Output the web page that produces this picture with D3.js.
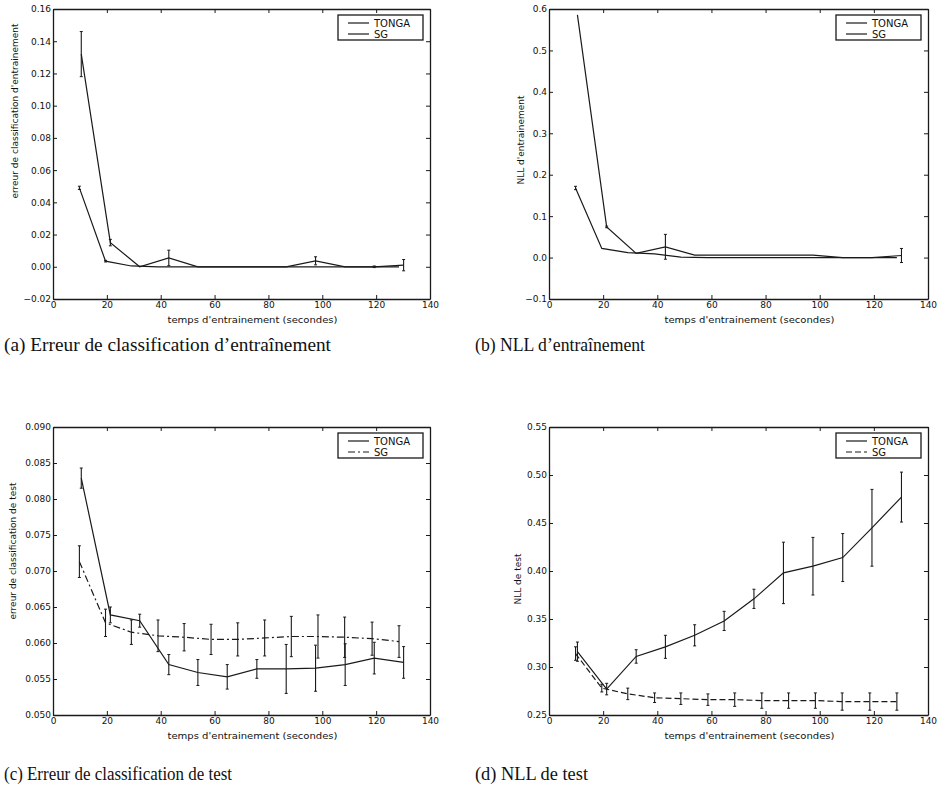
<!DOCTYPE html>
<html>
<head>
<meta charset="utf-8">
<script src="https://cdn.jsdelivr.net/npm/d3@7"></script>
<style>
  body { margin: 0; background: #fff; }
  svg text { font-family: "DejaVu Sans", sans-serif; fill: #111; }
  .caption { font-family: "Liberation Serif", serif; font-size: 18px; }
</style>
</head>
<body>
<svg id="fig" width="937" height="796"></svg>
<script>
// run times (seconds) for each method
const tongaTime = [10.5, 21.3, 32.2, 43.0, 53.8, 64.7, 75.7, 86.6, 97.5, 108.5, 119.3, 130.2];
const sgTime = [9.8, 19.5, 29.1, 39.0, 48.7, 58.7, 68.6, 78.6, 88.5, 98.4, 108.3, 118.5, 128.5];

// (a) training classification error
const tongaTrainErr = [0.132, 0.015, 0.000, 0.0055, 0.000, 0.000, 0.000, 0.000, 0.0037, 0.000, 0.000, 0.001];
const tongaTrainErrSd = [0.014, 0.002, 0, 0.0048, 0, 0, 0, 0, 0.0025, 0, 0.0005, 0.0035];
const sgTrainErr = [0.049, 0.0035, 0.0005, 0, 0, 0, 0, 0, 0, 0, 0, 0, 0];
const sgTrainErrSd = [0.001, 0.0005, 0, 0, 0, 0, 0, 0, 0, 0, 0, 0, 0];

// (b) training NLL
const tongaTrainNll = [0.586, 0.074, 0.010, 0.026, 0.006, 0.006, 0.006, 0.006, 0.006, 0.000, 0.000, 0.005];
const tongaTrainNllSd = [0, 0.002, 0, 0.030, 0, 0, 0, 0, 0, 0, 0, 0.017];
const sgTrainNll = [0.168, 0.022, 0.012, 0.009, 0.001, 0.000, 0.000, 0.000, 0.000, 0.000, 0.000, 0.000, 0.000];
const sgTrainNllSd = [0.004, 0, 0, 0, 0, 0, 0, 0, 0, 0, 0, 0, 0];

// (c) test classification error
const tongaTestErr = [0.0829, 0.0639, 0.0631, 0.0570, 0.0559, 0.0553, 0.0564, 0.0564, 0.0565, 0.0570, 0.0579, 0.0573];
const tongaTestErrSd = [0.0014, 0.0011, 0.0009, 0.0014, 0.0018, 0.0017, 0.0013, 0.0034, 0.0032, 0.0029, 0.0022, 0.0022];
const sgTestErr = [0.0713, 0.0628, 0.0615, 0.0610, 0.0608, 0.0605, 0.0605, 0.0607, 0.0609, 0.0609, 0.0608, 0.0606, 0.0602];
const sgTestErrSd = [0.0022, 0.0019, 0.0017, 0.0022, 0.0019, 0.0021, 0.0023, 0.0025, 0.0028, 0.0030, 0.0028, 0.0023, 0.0022];

// (d) test NLL
const tongaTestNll = [0.316, 0.277, 0.311, 0.321, 0.333, 0.348, 0.371, 0.398, 0.405, 0.414, 0.445, 0.477];
const tongaTestNllSd = [0.010, 0.006, 0.007, 0.012, 0.011, 0.010, 0.010, 0.032, 0.030, 0.025, 0.040, 0.026];
const sgTestNll = [0.314, 0.278, 0.272, 0.268, 0.267, 0.266, 0.266, 0.265, 0.265, 0.265, 0.264, 0.264, 0.264];
const sgTestNllSd = [0.007, 0.004, 0.006, 0.005, 0.006, 0.006, 0.007, 0.008, 0.008, 0.008, 0.009, 0.009, 0.009];

const xTicks = [0, 20, 40, 60, 80, 100, 120, 140];
const seriesNames = ["TONGA", "SG"];
const xLabel = "temps d'entrainement (secondes)";

const panels = [
  { left: 53, right: 430, top: 9, bottom: 299, yDomain: [-0.02, 0.16], yTicks: d3.range(-0.02, 0.1601, 0.02), fmt: ".2f",
    yLabel: "erreur de classification d'entrainement", yLabelX: 15, yLabelY: 111,
    tonga: tongaTrainErr, tongaSd: tongaTrainErrSd, sg: sgTrainErr, sgSd: sgTrainErrSd, sgDash: null,
    caption: "(a) Erreur de classification d\u2019entra\u00eenement", capX: 4, capY: 351, capW: 327 },
  { left: 549, right: 928, top: 9, bottom: 299, yDomain: [-0.1, 0.6], yTicks: d3.range(-0.1, 0.601, 0.1), fmt: ".1f",
    yLabel: "NLL d'entrainement", yLabelX: 521, yLabelY: 140,
    tonga: tongaTrainNll, tongaSd: tongaTrainNllSd, sg: sgTrainNll, sgSd: sgTrainNllSd, sgDash: null,
    caption: "(b) NLL d\u2019entra\u00eenement", capX: 475, capY: 351, capW: 170 },
  { left: 53, right: 430, top: 427, bottom: 715, yDomain: [0.05, 0.09], yTicks: d3.range(0.05, 0.0901, 0.005), fmt: ".3f",
    yLabel: "erreur de classification de test", yLabelX: 13, yLabelY: 551,
    tonga: tongaTestErr, tongaSd: tongaTestErrSd, sg: sgTestErr, sgSd: sgTestErrSd, sgDash: "7,3,2,3",
    caption: "(c) Erreur de classification de test", capX: 4, capY: 780, capW: 228 },
  { left: 549, right: 928, top: 427, bottom: 715, yDomain: [0.25, 0.55], yTicks: d3.range(0.25, 0.5501, 0.05), fmt: ".2f",
    yLabel: "NLL de test", yLabelX: 518, yLabelY: 579,
    tonga: tongaTestNll, tongaSd: tongaTestNllSd, sg: sgTestNll, sgSd: sgTestNllSd, sgDash: "6,3",
    caption: "(d) NLL de test", capX: 475, capY: 780, capW: 113 }
];

const svg = d3.select("#fig");
const ink = "#1a1a1a";

panels.forEach(p => {
  const g = svg.append("g");
  const x = d3.scaleLinear().domain([0, 140]).range([p.left, p.right]);
  const y = d3.scaleLinear().domain(p.yDomain).range([p.bottom, p.top]);

  // axes, ticks pointing inward like matplotlib
  const fmt = d3.format(p.fmt);
  g.append("g").attr("transform", `translate(0,${p.bottom})`)
    .call(d3.axisBottom(x).tickValues(xTicks).tickSize(-4).tickSizeOuter(0).tickPadding(3).tickFormat(d3.format("d")));
  g.append("g").attr("transform", `translate(0,${p.top})`)
    .call(d3.axisTop(x).tickValues(xTicks).tickSize(-4).tickSizeOuter(0).tickFormat(""));
  g.append("g").attr("transform", `translate(${p.left},0)`)
    .call(d3.axisLeft(y).tickValues(p.yTicks).tickSize(-4).tickSizeOuter(0).tickPadding(2).tickFormat(fmt));
  g.append("g").attr("transform", `translate(${p.right},0)`)
    .call(d3.axisRight(y).tickValues(p.yTicks).tickSize(-4).tickSizeOuter(0).tickFormat(""));

  g.selectAll(".domain").attr("stroke", ink).attr("stroke-width", 1.3);
  g.selectAll(".tick line").attr("stroke", ink).attr("stroke-width", 1);
  g.selectAll(".tick text").attr("font-size", 9).attr("font-family", "DejaVu Sans").attr("fill", "#111");

  // axis labels
  g.append("text")
    .attr("x", (p.left + p.right) / 2 + 11).attr("y", p.bottom + 24)
    .attr("text-anchor", "middle").attr("font-size", 9.5)
    .attr("textLength", 170).attr("lengthAdjust", "spacingAndGlyphs")
    .text(xLabel);
  g.append("text")
    .attr("transform", `translate(${p.yLabelX},${p.yLabelY}) rotate(-90)`)
    .attr("text-anchor", "middle").attr("dy", "0.35em").attr("font-size", 9)
    .text(p.yLabel);

  const line = d3.line().x(d => x(d.t)).y(d => y(d.v));
  const series = [
    { name: "TONGA", t: tongaTime, v: p.tonga, sd: p.tongaSd, dash: null },
    { name: "SG", t: sgTime, v: p.sg, sd: p.sgSd, dash: p.sgDash }
  ];

  series.forEach(s => {
    const pts = s.t.map((t, i) => ({ t: t, v: s.v[i], sd: s.sd[i] }));
    g.append("path").datum(pts)
      .attr("d", line).attr("fill", "none")
      .attr("stroke", ink).attr("stroke-width", 1.2)
      .attr("stroke-dasharray", s.dash);

    const bars = g.append("g").selectAll("g").data(pts.filter(d => d.sd > 0)).join("g");
    bars.append("line")
      .attr("x1", d => x(d.t)).attr("x2", d => x(d.t))
      .attr("y1", d => y(d.v - d.sd)).attr("y2", d => y(d.v + d.sd))
      .attr("stroke", ink).attr("stroke-width", 1.1);
    [-1, 1].forEach(sign => {
      bars.append("line")
        .attr("x1", d => x(d.t) - 1.5).attr("x2", d => x(d.t) + 1.5)
        .attr("y1", d => y(d.v + sign * d.sd)).attr("y2", d => y(d.v + sign * d.sd))
        .attr("stroke", ink).attr("stroke-width", 1);
    });
  });

  // legend box in the upper right corner
  const lx = p.right - 92, ly = p.top + 6;
  const leg = g.append("g").attr("transform", `translate(${lx},${ly})`);
  leg.append("rect").attr("width", 85).attr("height", 25)
    .attr("fill", "#fff").attr("stroke", ink).attr("stroke-width", 1.3);
  series.forEach((s, i) => {
    const yy = 8 + i * 11;
    leg.append("line").attr("x1", 10).attr("x2", 31).attr("y1", yy).attr("y2", yy)
      .attr("stroke", ink).attr("stroke-width", 1.2).attr("stroke-dasharray", s.dash);
    leg.append("text").attr("x", 36).attr("y", yy).attr("dy", "0.35em")
      .attr("font-size", 10).text(seriesNames[i]);
  });

  // sub-figure caption
  svg.append("text").attr("class", "caption")
    .attr("x", p.capX).attr("y", p.capY)
    .attr("textLength", p.capW).attr("lengthAdjust", "spacingAndGlyphs")
    .text(p.caption);
});
</script>
</body>
</html>
